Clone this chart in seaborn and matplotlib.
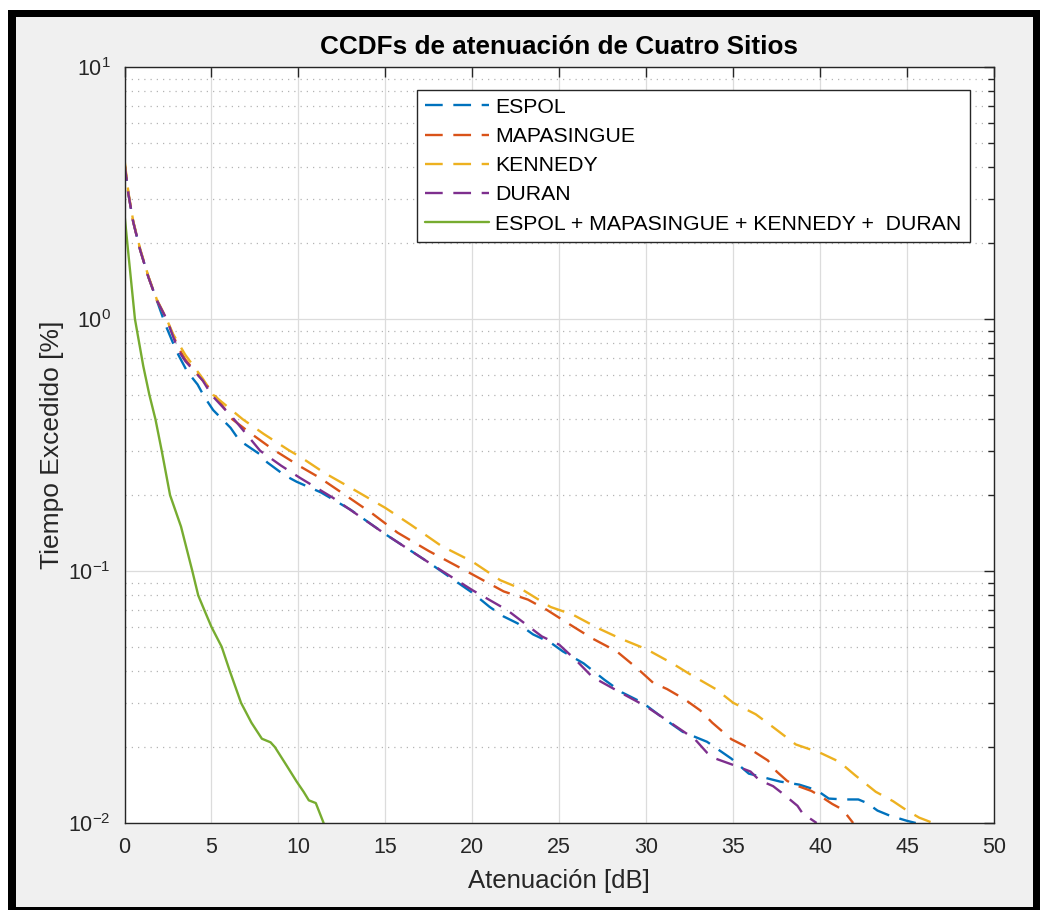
import numpy as np
import pandas as pd
import seaborn as sns
import matplotlib.pyplot as plt
from matplotlib.patches import Rectangle
from matplotlib.ticker import LogLocator, NullFormatter, MultipleLocator

# CCDF readings (attenuation in dB, time exceeded in %)
espol_x = [0, 0.22, 0.5, 0.9, 1.37, 1.85, 2.35, 2.8, 3.1, 3.6,
           4.2, 4.6, 5.1, 6.1, 6.6, 7.8, 8.2, 9.2, 9.9, 11.3,
           13.0, 15.0, 17.5, 20.0, 21.0, 21.8, 22.6, 23.5, 24.5, 25.2,
           26.4, 27.6, 28.6, 29.8, 31.0, 32.1, 33.5, 34.9, 35.9, 36.7,
           37.7, 38.8, 39.8, 40.5, 41.4, 42.2, 42.7, 43.3, 44.0, 45.0,
           45.5]
espol_y = [4.15, 3.15, 2.43, 1.88, 1.47, 1.19, 0.95, 0.80, 0.72, 0.62,
           0.55, 0.49, 0.435, 0.37, 0.33, 0.29, 0.27, 0.24, 0.226, 0.205,
           0.175, 0.14, 0.108, 0.082, 0.072, 0.066, 0.062, 0.056, 0.052, 0.048,
           0.043, 0.037, 0.033, 0.030, 0.026, 0.023, 0.021, 0.018, 0.0157, 0.0152,
           0.0146, 0.0142, 0.0135, 0.0125, 0.0124, 0.0124, 0.012, 0.0112, 0.0107, 0.0102,
           0.010]

mapa_x = [0, 0.22, 0.5, 0.9, 1.37, 1.85, 2.42, 2.8, 3.1, 3.5,
          4.5, 5.0, 6.2, 7.3, 8.5, 10.1, 11.2, 12.7, 14.3, 15.7,
          17.5, 20.0, 21.8, 23.2, 24.3, 25.5, 26.9, 28.3, 29.5, 30.4,
          31.2, 32.2, 33.1, 33.8, 34.9, 35.8, 37.0, 37.5, 38.1, 38.5,
          39.5, 40.0, 40.7, 41.3, 41.9]
mapa_y = [4.2, 3.15, 2.43, 1.88, 1.47, 1.19, 1.0, 0.86, 0.77, 0.69,
          0.57, 0.52, 0.40, 0.35, 0.305, 0.26, 0.235, 0.2, 0.168, 0.142,
          0.12, 0.097, 0.083, 0.077, 0.07, 0.062, 0.054, 0.048, 0.041, 0.036,
          0.034, 0.031, 0.028, 0.025, 0.0215, 0.02, 0.0177, 0.016, 0.0147, 0.0142,
          0.0134, 0.0128, 0.0119, 0.0113, 0.010]

kennedy_x = [0, 0.22, 0.5, 0.9, 1.37, 1.85, 2.42, 2.8, 3.5, 4.5,
             5.1, 6.8, 8.0, 9.5, 10.1, 11.5, 13.0, 13.9, 15.0, 16.5,
             18.2, 20.0, 21.6, 22.8, 24.5, 25.8, 27.3, 28.5, 30.0, 31.5,
             32.5, 34.0, 35.0, 36.3, 37.3, 38.6, 40.0, 41.1, 42.0, 43.2,
             44.2, 45.0, 45.7, 46.5]
kennedy_y = [4.3, 3.2, 2.45, 1.9, 1.48, 1.2, 1.0, 0.87, 0.72, 0.58,
             0.5, 0.4, 0.35, 0.3, 0.284, 0.245, 0.214, 0.197, 0.178, 0.152,
             0.126, 0.109, 0.092, 0.085, 0.072, 0.067, 0.059, 0.054, 0.049, 0.043,
             0.039, 0.034, 0.030, 0.027, 0.024, 0.0205, 0.019, 0.0175, 0.0155, 0.0133,
             0.0122, 0.0112, 0.0105, 0.010]

duran_x = [0, 0.22, 0.5, 0.9, 1.37, 1.85, 2.42, 2.8, 3.1, 3.5,
           4.5, 5.0, 6.3, 7.8, 9.0, 10.1, 12.0, 15.0, 17.5, 20.0,
           22.0, 24.0, 25.0, 26.0, 26.9, 28.5, 30.0, 31.4, 32.8, 33.5,
           34.0, 35.0, 36.0, 36.5, 37.3, 37.9, 38.7, 39.0, 39.8]
duran_y = [4.15, 3.15, 2.43, 1.88, 1.47, 1.19, 1.0, 0.85, 0.75, 0.68,
           0.57, 0.5, 0.4, 0.3, 0.262, 0.234, 0.195, 0.14, 0.108, 0.084,
           0.07, 0.055, 0.051, 0.044, 0.038, 0.033, 0.029, 0.025, 0.0215, 0.019,
           0.018, 0.017, 0.016, 0.0148, 0.014, 0.013, 0.0117, 0.0109, 0.010]

total_x = [0, 0.2, 0.6, 1.08, 1.43, 1.78, 2.14, 2.62, 3.25, 3.9,
           4.24, 4.59, 5.0, 5.59, 6.06, 6.7, 7.3, 7.9, 8.4, 8.65,
           9.3, 9.9, 10.3, 10.6, 11.0, 11.45]
total_y = [2.6, 1.88, 1.0, 0.65, 0.5, 0.4, 0.3, 0.2, 0.15, 0.1,
           0.08, 0.07, 0.06, 0.05, 0.04, 0.03, 0.025, 0.0216, 0.0209, 0.02,
           0.017, 0.0146, 0.0133, 0.0123, 0.012, 0.01]

labels = ['ESPOL', 'MAPASINGUE', 'KENNEDY', 'DURAN',
          'ESPOL + MAPASINGUE + KENNEDY +  DURAN']
colors = ['#0072BD', '#D95319', '#EDB120', '#7E2F8E', '#77AC30']

sns.set_style('white')
plt.rcParams['font.family'] = ['Liberation Sans', 'DejaVu Sans']
plt.rcParams['mathtext.fontset'] = 'custom'
plt.rcParams['mathtext.rm'] = 'Liberation Sans'
plt.rcParams['mathtext.it'] = 'Liberation Sans:italic'
plt.rcParams['mathtext.bf'] = 'Liberation Sans:bold'

W, H = 1042, 910
fig = plt.figure(figsize=(W / 100, H / 100), dpi=100)
fig.patch.set_facecolor('white')
# screenshot frame: black border, grey matlab figure background
fig.add_artist(Rectangle((8 / W, 0), 1032 / W, 900 / H, transform=fig.transFigure,
                         facecolor='black', edgecolor='none', zorder=-10))
fig.add_artist(Rectangle((16 / W, 3 / H), 1017 / W, 890 / H, transform=fig.transFigure,
                         facecolor='#f0f0f0', edgecolor='none', zorder=-9))

ax = fig.add_axes([124.5 / W, 87 / H, 869.5 / W, 756 / H])
ax.set_facecolor('white')

series = [(espol_x, espol_y), (mapa_x, mapa_y), (kennedy_x, kennedy_y),
          (duran_x, duran_y), (total_x, total_y)]
dash = (0, (7.5, 4.5))
for i, (xs, ys) in enumerate(series):
    ls = '-' if i == 4 else dash
    sns.lineplot(x=xs, y=ys, ax=ax, color=colors[i], linestyle=ls, lw=1.7,
                 label=labels[i], estimator=None, sort=False)

ax.set_yscale('log')
ax.set_xlim(0, 50)
ax.set_ylim(0.01, 10)
ax.xaxis.set_major_locator(MultipleLocator(5))
ax.yaxis.set_major_locator(LogLocator(base=10, numticks=10))
ax.yaxis.set_minor_locator(LogLocator(base=10, subs=np.arange(2, 10), numticks=10))
ax.yaxis.set_minor_formatter(NullFormatter())

ax.grid(True, which='major', color='#dcdcdc', lw=0.9, ls='-')
ax.grid(True, which='minor', axis='y', color='#b4b4b4', lw=0.9, ls=(0, (1, 4)))
ax.set_axisbelow(True)

for s in ax.spines.values():
    s.set_color('#262626')
    s.set_linewidth(1.0)
ax.tick_params(which='both', direction='in', top=True, right=True,
               color='#262626', labelcolor='#262626', labelsize=15.5)
ax.tick_params(which='major', length=7, width=1, pad=10)
ax.tick_params(which='minor', length=4, width=1)

ax.set_title('CCDFs de atenuación de Cuatro Sitios', fontsize=18.8,
             fontweight='bold', color='black', pad=9)
ax.set_xlabel('Atenuación [dB]', fontsize=18.5, color='#262626', labelpad=8)
ax.set_ylabel('Tiempo Excedido [%]', fontsize=19, color='#262626', labelpad=3)

leg = ax.legend(loc='upper right', bbox_to_anchor=(0.972, 0.970), borderaxespad=0,
                frameon=True, fancybox=False, framealpha=1, edgecolor='#262626',
                fontsize=15.3, handlelength=3.0, labelspacing=0.48,
                borderpad=0.38, handletextpad=0.3)
leg.get_frame().set_linewidth(1.0)
for t in leg.get_texts():
    t.set_color('black')

fig.savefig('out.png', dpi=100, facecolor=fig.get_facecolor())
